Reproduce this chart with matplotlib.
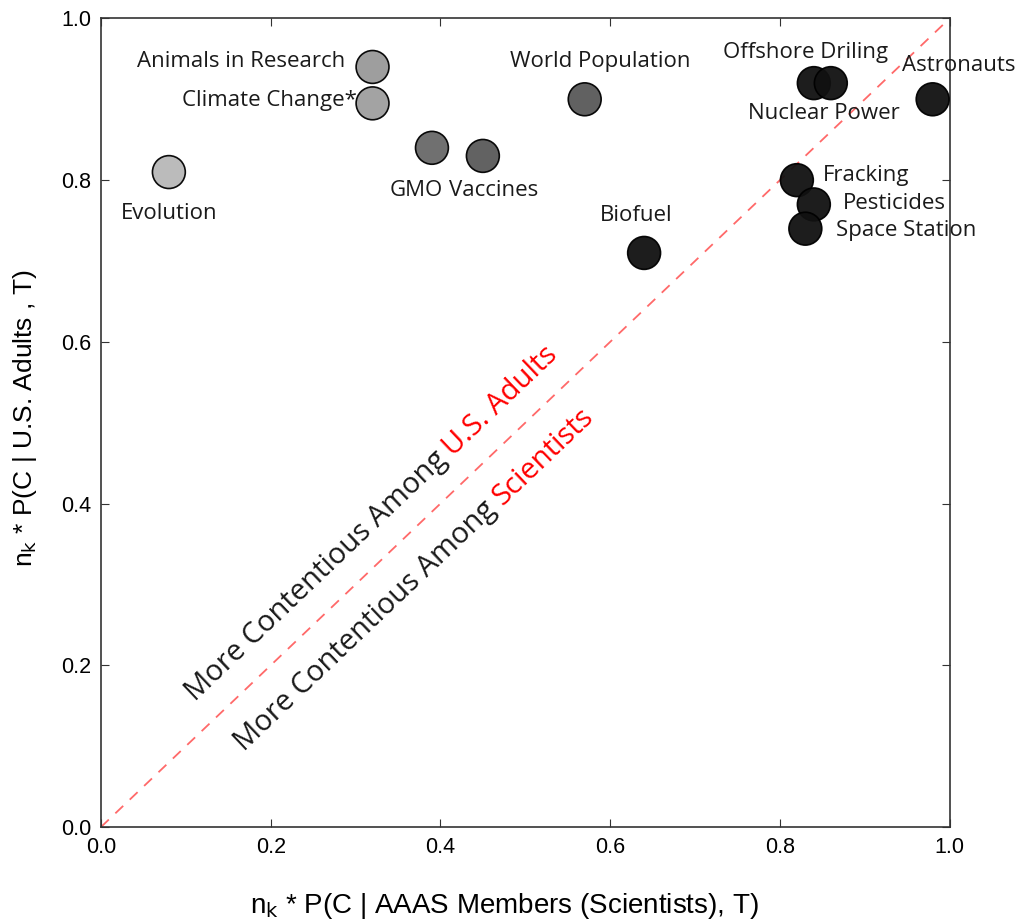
import matplotlib
matplotlib.use("Agg")
import matplotlib.pyplot as plt
import numpy as np

# данные: доля согласия учёных (x) и взрослых США (y)
topics = ["Evolution", "Animals in Research", "Climate Change*", "GMO", "Vaccines",
          "World Population", "Biofuel", "Offshore Driling", "Nuclear Power",
          "Astronauts", "Fracking", "Pesticides", "Space Station"]
scientists = [0.08, 0.32, 0.32, 0.39, 0.45, 0.57, 0.64, 0.84, 0.86, 0.98, 0.82, 0.84, 0.83]
adults = [0.81, 0.94, 0.895, 0.84, 0.83, 0.90, 0.71, 0.92, 0.92, 0.90, 0.80, 0.77, 0.74]
shades = ["#b8b8b8", "#999999", "#9e9e9e", "#686868", "#595959", "#585858", "#111111",
          "#111111", "#111111", "#111111", "#111111", "#111111", "#111111"]

# смещения подписей в точках (dx, dy, ha)
label_pos = [(0, -30, "center"), (-20, 4, "right"), (-11, 2, "right"), (-11, -31, "center"),
             (8, -25, "center"), (11, 27, "center"), (-6, 27, "center"), (-6, 22, "center"),
             (-5, -22, "center"), (19, 24, "center"), (19, 3, "left"), (21, 1, "left"),
             (22, -1, "left")]

label_font = "Open Sans"
tick_font = "Liberation Sans"

fig = plt.figure(figsize=(10.2, 9.22), dpi=100)
ax = fig.add_axes([0.099, 0.103, 0.832, 0.877])

ax.plot([0, 1], [0, 1], "--", color="#ff4444", alpha=0.8, lw=1.3, dashes=(6, 5), zorder=1)

ax.scatter(scientists, adults, s=560, c=shades, edgecolors="black", linewidths=1.2,
           alpha=0.95, zorder=3, clip_on=False)

for name, x, y, (dx, dy, ha) in zip(topics, scientists, adults, label_pos):
    ax.annotate(name, (x, y), xytext=(dx, dy), textcoords="offset points",
                ha=ha, va="center", fontsize=16, family=label_font,
                color="#1a1a1a", annotation_clip=False, zorder=4)

# подписи вдоль диагонали: чёрная часть + красная часть
diag_angle = 43.6
gap = 5
gx, gy = gap * np.cos(np.radians(diag_angle)), gap * np.sin(np.radians(diag_angle))
for (jx, jy), red_part in [((0.409, 0.452), "U.S. Adults"), ((0.467, 0.391), "Scientists")]:
    ax.text(jx, jy, "More Contentious Among", rotation=diag_angle,
            rotation_mode="anchor", ha="right", va="baseline", fontsize=21,
            family=label_font, color="#1a1a1a")
    ax.annotate(red_part, (jx, jy), xytext=(gx, gy), textcoords="offset points",
                rotation=diag_angle, rotation_mode="anchor", ha="left", va="baseline",
                fontsize=21, family=label_font, color="red")

ax.set_xlim(0, 1)
ax.set_ylim(0, 1)
ticks = [0.0, 0.2, 0.4, 0.6, 0.8, 1.0]
ax.set_xticks(ticks)
ax.set_yticks(ticks)
ax.set_xticklabels([f"{t:.1f}" for t in ticks], family=tick_font, fontsize=15.5)
ax.set_yticklabels([f"{t:.1f}" for t in ticks], family=tick_font, fontsize=15.5)
ax.tick_params(direction="in", length=6, top=True, right=True, pad=7, color="#333333")
for sp in ax.spines.values():
    sp.set_linewidth(1.2)
    sp.set_color("#333333")

ax.set_xlabel(r"n$_\mathrm{k}$ * P(C | AAAS Members (Scientists), T)", family=tick_font,
              fontsize=20, labelpad=24)
ax.xaxis.label.set_x(0.475)
ax.set_ylabel(r"n$_\mathrm{k}$ * P(C | U.S. Adults , T)", family=tick_font, fontsize=19,
              labelpad=16)
ax.yaxis.label.set_y(0.505)

fig.savefig("out.png", dpi=100)
